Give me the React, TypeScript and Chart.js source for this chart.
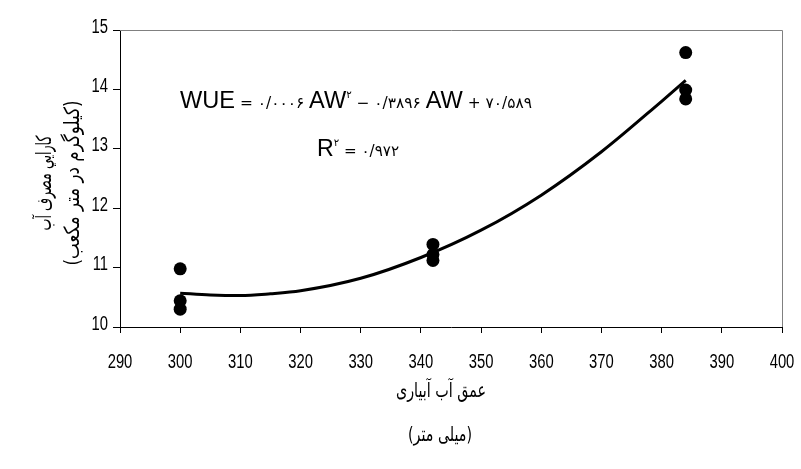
import React, { useEffect, useRef } from "react";
import { Chart, registerables } from "chart.js";

Chart.register(...registerables);

// ---- data ----
const xMin = 290;
const xMax = 400;
const xStep = 10;
const yMin = 10;
const yMax = 15;
const yStep = 1;

const depthX = [300, 300, 300, 342, 342, 342, 384, 384, 384];
const wueY = [10.98, 10.44, 10.3, 11.39, 11.22, 11.12, 14.62, 13.99, 13.84];

const trendX = [300, 305, 310, 315, 320, 330, 340, 350, 360, 370, 380, 384];
const trendY = [10.57, 10.54, 10.53, 10.56, 10.61, 10.82, 11.17, 11.63, 12.22, 12.95, 13.8, 14.15];

const xTitleLines = ["عمق آب آبیاری", "(میلی متر)"];
const yTitleLines = ["کارايي مصرف آب", "(کیلوگرم در متر مکعب)"];

// equation pieces: [text, kind]  kind: b=big, s=small, p=superscript
const equationPieces: [string, string][] = [
  ["WUE", "b"],
  [" = ۰/۰۰۰۶ ", "s"],
  ["AW", "b"],
  ["۲", "p"],
  [" − ۰/۳۸۹۶ ", "s"],
  ["AW", "b"],
  [" + ۷۰/۵۸۹", "s"],
];
const r2Pieces: [string, string][] = [
  ["R", "b"],
  ["۲", "p"],
  [" = ۰/۹۷۲", "s"],
];

const LATIN = "'Liberation Sans', Arial, sans-serif";
const PERSIAN = "'DejaVu Sans', sans-serif";

function fontFor(kind: string) {
  if (kind === "b") return `23px ${LATIN}`;
  if (kind === "p") return `10px ${PERSIAN}`;
  return `15px ${PERSIAN}`;
}

function drawPieces(ctx: CanvasRenderingContext2D, pieces: [string, string][], x: number, y: number, width: number) {
  ctx.save();
  let total = 0;
  for (const [t, k] of pieces) {
    ctx.font = fontFor(k);
    total += ctx.measureText(t).width;
  }
  ctx.translate(x, y);
  ctx.scale(width / total, 1);
  ctx.fillStyle = "#000";
  ctx.textBaseline = "alphabetic";
  ctx.textAlign = "left";
  ctx.direction = "ltr";
  let cx = 0;
  for (const [t, k] of pieces) {
    ctx.font = fontFor(k);
    const yy = k === "p" ? -10 : 0;
    ctx.fillText(t, cx, yy);
    cx += ctx.measureText(t).width;
  }
  ctx.restore();
}

function drawFitted(
  ctx: CanvasRenderingContext2D,
  text: string,
  cx: number,
  cy: number,
  len: number,
  font: string,
  rotate: boolean
) {
  ctx.save();
  ctx.font = font;
  ctx.direction = "rtl";
  ctx.textAlign = "center";
  ctx.textBaseline = "middle";
  ctx.fillStyle = "#000";
  const w = ctx.measureText(text).width;
  ctx.translate(cx, cy);
  if (rotate) ctx.rotate(-Math.PI / 2);
  ctx.scale(len / w, 1);
  ctx.fillText(text, 0, 0);
  ctx.restore();
}

function drawNarrow(ctx: CanvasRenderingContext2D, text: string, x: number, y: number, align: CanvasTextAlign) {
  ctx.save();
  ctx.font = `20px ${LATIN}`;
  ctx.fillStyle = "#000";
  ctx.textBaseline = "middle";
  ctx.textAlign = align;
  ctx.translate(x, y);
  ctx.scale(0.74, 1);
  ctx.fillText(text, 0, 0);
  ctx.restore();
}

const decorPlugin = {
  id: "decor",
  afterDraw(chart: any) {
    const ctx: CanvasRenderingContext2D = chart.ctx;
    const a = chart.chartArea;
    ctx.save();
    ctx.strokeStyle = "#808080";
    ctx.lineWidth = 1;
    ctx.beginPath();
    ctx.moveTo(a.left, a.top + 0.5);
    ctx.lineTo(a.right + 0.5, a.top + 0.5);
    ctx.lineTo(a.right + 0.5, a.bottom);
    ctx.stroke();
    ctx.restore();

    const xs = chart.scales.x;
    xs.ticks.forEach((t: any) => {
      drawNarrow(ctx, String(t.value), xs.getPixelForValue(t.value), 362, "center");
    });
    const ys = chart.scales.y;
    ys.ticks.forEach((t: any) => {
      drawNarrow(ctx, String(t.value), 108, ys.getPixelForValue(t.value) - 3, "right");
    });

    drawPieces(ctx, equationPieces, 180, 108, 352);
    drawPieces(ctx, r2Pieces, 317, 156, 82);

    drawFitted(ctx, xTitleLines[0], 441, 392, 90, `20px ${PERSIAN}`, false);
    drawFitted(ctx, xTitleLines[1], 440, 436, 64, `20px ${PERSIAN}`, false);
    drawFitted(ctx, yTitleLines[0], 46, 183, 95, `21px ${PERSIAN}`, true);
    drawFitted(ctx, yTitleLines[1], 74, 183, 165, `21px ${PERSIAN}`, true);
  },
};

export default function App() {
  const ref = useRef<HTMLCanvasElement | null>(null);
  useEffect(() => {
    document.body.style.margin = "0";
    const canvas = ref.current!;
    const chart = new Chart(canvas, {
      type: "scatter",
      data: {
        datasets: [
          {
            label: "trend",
            data: trendX.map((x, i) => ({ x, y: trendY[i] })),
            showLine: true,
            borderColor: "#000",
            borderWidth: 3,
            pointRadius: 0,
            tension: 0.4,
            cubicInterpolationMode: "monotone",
            order: 2,
          } as any,
          {
            label: "WUE",
            data: depthX.map((x, i) => ({ x, y: wueY[i] })),
            backgroundColor: "#000",
            borderColor: "#000",
            pointRadius: 6.5,
            pointBorderWidth: 0,
            order: 1,
          },
        ],
      },
      options: {
        animation: false,
        responsive: false,
        devicePixelRatio: 1,
        layout: { padding: { top: 30, right: 19, left: 0, bottom: 0 } },
        plugins: {
          legend: { display: false },
          tooltip: { enabled: false },
        },
        scales: {
          x: {
            type: "linear",
            min: xMin,
            max: xMax,
            afterFit: (s: any) => {
              s.height = 142;
            },
            ticks: {
              stepSize: xStep,
              autoSkip: false,
              maxRotation: 0,
              color: "rgba(0,0,0,0)",
              font: { size: 12 },
            },
            grid: { drawOnChartArea: false, drawTicks: true, tickLength: 6, tickColor: "#000" },
            border: { color: "#000", width: 1 },
          },
          y: {
            type: "linear",
            min: yMin,
            max: yMax,
            afterFit: (s: any) => {
              s.width = 120;
            },
            ticks: {
              stepSize: yStep,
              color: "rgba(0,0,0,0)",
              font: { size: 12 },
            },
            grid: { drawOnChartArea: false, drawTicks: true, tickLength: 7, tickColor: "#000" },
            border: { color: "#000", width: 1 },
          },
        },
      },
      plugins: [decorPlugin],
    });
    return () => chart.destroy();
  }, []);
  return (
    <div style={{ width: 801, height: 469 }}>
      <canvas ref={ref} width={801} height={469} style={{ display: "block" }} />
    </div>
  );
}
